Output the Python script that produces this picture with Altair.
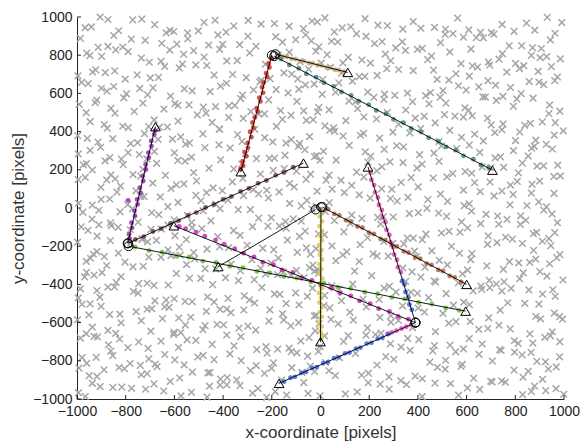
import altair as alt
import pandas as pd

# ---------------- noise detections (gray crosses) ----------------
noise_x = [
    412,-873,57,-244,931,-618,275,-35,702,-967,183,-502,846,-129,-771,609,-388,-13,468,-905,338,-681,795,-297,124,-546,991,-70,563,-829,236,-433,657,-189,89,-734,880,-356,381,-603,746,-941,18,513,-478,
    -652,187,-913,544,-38,826,-421,309,-777,71,963,-265,640,-590,-102,418,-849,253,-332,712,-7,-986,493,-184,871,-720,148,-459,587,-873,336,-61,907,-545,222,-298,775,-634,45,-812,669,-402,512,-156,944,
    733,-291,92,-841,456,-567,-19,902,-385,266,-703,618,-947,170,-128,801,-478,349,-655,27,985,-226,531,-899,398,-84,747,-736,205,-521,866,-342,-960,577,114,-619,690,-173,440,-790,3,929,-414,288,-562,
    -118,645,-802,381,-467,973,-49,233,-936,527,-640,86,-305,817,-753,464,-207,695,-884,159,-580,9,894,-361,624,-699,321,-996,41,-243,765,-512,182,-845,556,-93,948,-437,272,-665,835,-150,479,-923,611,
    598,-954,263,-411,857,-133,-688,432,75,-877,719,-320,962,-559,194,-26,-797,650,-249,503,-616,917,-89,357,-981,780,-453,131,-710,567,-182,824,-386,-900,62,688,-527,305,-62,-742,452,897,-275,-849,7,
    -377,806,-69,-925,491,152,-598,722,-286,941,-808,35,378,-481,667,-164,-991,260,593,-729,-12,873,-352,117,-643,749,-431,983,-213,446,-861,219,-540,608,-97,792,-328,-765,515,-7,-919,350,677,-585,143,
    911,-506,-181,686,-844,321,-30,552,-662,104,-962,839,-377,471,-253,-789,230,750,-121,-585,18,938,-445,389,-706,623,-58,-888,275,862,-317,-629,509,-946,178,701,-470,-156,-812,426,964,-230,54,-683,587,
    -229,58,-751,633,-416,884,-997,297,-86,-574,745,-322,177,-853,531,-142,960,-667,411,-45,-914,818,243,-483,669,-270,-780,93,997,-608,367,-196,-876,579,-341,801,38,-538,716,-958,164,-414,487,-723,-120,
    466,-903,717,-64,-417,206,-682,878,-263,559,-995,118,-530,792,-146,341,-818,654,-371,-25,927,-744,262,-210,497,-600,853,-475,12,-865,611,-307,952,-713,184,-91,739,-946,407,-554,-189,867,-790,313,-16,
    -729,339,-41,916,-586,148,-323,700,-861,487,-194,-974,621,64,-458,829,-637,252,-99,-885,543,974,-356,195,-770,752,-2,-521,417,-937,285,-247,889,-673,594,-149,-410,813,-810,35,664,-556,231,-961,396,
    128,-843,587,-362,958,-614,23,-127,745,-966,401,-509,293,-738,869,-59,-403,633,-902,178,-276,808,-592,463,-14,-689,985,-441,84,-821,372,-221,696,-995,251,-561,519,-108,900,-758,331,-319,48,-878,780,
    -491,791,-937,204,-170,611,-725,441,-18,959,-585,-316,848,98,-866,359,-627,522,-254,-994,713,-79,287,-468,896,-792,159,-380,656,-127,-658,928,-901,493,36,-512,778,-214,-836,315,590,-738,-56,866,-430,
    822,-288,57,-693,437,-938,680,-144,-482,235,973,-823,518,-35,-601,365,-254,917,-749,128,-413,766,-976,299,-79,620,-547,-863,485,170,-338,843,-664,20,-202,579,-910,727,-450,402,-772,-112,951,-529,258,
    -63,-910,689,-527,356,-216,874,-781,122,-422,573,-983,938,-654,16,247,-357,760,-859,497,-141,-598,821,96,-732,-279,433,-955,658,-86,-487,962,193,-626,528,-330,-831,732,-8,-696,381,-169,888,-917,604,
    538,-136,-830,297,-626,911,-41,-377,725,-918,163,-551,622,-237,-710,457,47,983,-863,-466,342,-95,788,-580,216,-998,875,-301,-674,571,-18,-780,108,418,-414,-933,686,-192,260,-521,946,-733,386,-58,829,
    -803,278,-474,884,-31,-655,604,-202,-944,429,63,-576,751,-367,970,-728,159,-99,-888,521,-282,338,-614,814,-11,-517,683,-962,232,-430,941,-173,-770,488,92,-329,859,-705,-45,617,-878,395,-246,776,-550,
    693,-390,132,-961,467,-121,-712,833,-538,283,-24,930,-839,583,-272,-625,376,-969,754,-176,46,-492,901,-747,210,-337,-897,659,-67,473,-592,996,-443,140,-819,566,-226,818,-684,-8,350,-930,722,-152,412,
    -167,954,-601,371,-873,86,-313,662,-995,516,-437,783,-54,-768,241,-241,912,-527,-918,444,-102,695,-680,17,856,-380,310,-846,588,-189,-986,175,745,-464,-33,-634,398,964,-749,261,-292,627,-906,77,-556,
    427,-712,-25,897,-368,188,-951,612,-208,-582,769,38,-824,337,-469,982,-141,-693,503,-901,244,-315,839,-17,-622,121,-979,691,-413,-156,546,-757,884,-271,401,-866,14,738,-533,-88,960,-640,289,-946,-385,
    -937,556,-266,73,-649,860,-474,320,-22,-819,687,-151,952,-555,193,-398,-998,472,-90,779,-736,249,-298,615,-873,-6,904,-602,378,-212,-483,733,-962,135,-335,527,-697,994,-122,-841,289,650,-425,43,-574,
    287,-81,-791,944,-445,611,-224,-930,95,736,-603,404,-355,-47,872,-708,187,-512,532,-986,-176,983,-385,331,-825,664,17,-262,-655,468,-916,812,-129,226,-548,-2,921,-747,587,-327,-871,358,-583,114,796,
    -598,828,-193,461,-979,232,-372,706,-53,-861,582,-705,144,924,-482,368,-264,-921,797,21,-640,514,-120,-782,982,-437,268,-9,-960,651,-326,865,-560,78,-219,449,-853,742,-679,301,-97,889,-504,-740,555,
    61,-454,912,-827,389,-288,629,-992,197,-617,-42,853,-383,512,-736,-160,968,-526,281,-889,744,-230,-671,418,35,-950,-118,699,-462,832,-805,169,-344,577,-24,-578,936,-712,330,-201,-918,795,-411,480,-76,
    -776,470,-139,879,-530,245,-966,654,-385,102,-853,759,-2,-644,353,-279,967,-466,534,-186,-905,830,-69,-718,417,-331,-994,603,196,-573,925,-412,-51,-816,705,-221,282,-684,999,-456,151,-937,567,-257,866,
]
noise_y = [
    941,987,922,963,998,930,955,979,918,944,991,927,968,952,985,933,921,974,946,999,937,960,925,982,949,917,971,939,994,928,957,983,920,966,943,989,931,953,976,924,961,948,995,936,972,
    862,899,841,913,875,850,906,838,884,869,915,847,892,858,881,836,903,871,855,910,844,888,866,897,839,878,912,853,894,846,870,907,835,886,861,900,849,917,873,843,891,857,909,868,880,
    779,812,760,828,795,754,821,787,770,806,763,832,798,775,815,757,790,825,768,803,781,753,817,794,830,766,808,785,759,824,799,772,811,756,789,827,764,801,777,819,758,793,831,771,805,
    701,738,675,719,746,686,727,694,712,670,741,706,683,730,697,722,677,748,709,688,733,672,715,699,744,681,725,692,736,669,711,749,689,718,703,676,740,696,729,684,745,707,673,723,690,
    617,651,596,638,662,603,629,588,655,612,643,591,667,624,607,649,598,634,660,615,586,646,622,601,658,631,609,664,593,640,620,599,653,627,606,666,613,590,645,626,604,659,618,636,595,
    534,571,509,552,580,520,546,563,505,539,577,514,557,528,582,510,543,568,525,549,503,575,537,560,518,584,531,507,566,545,522,579,540,511,558,532,573,506,549,526,565,513,581,538,555,
    451,488,427,470,496,438,462,481,423,457,499,433,474,446,492,421,466,440,485,455,430,494,448,471,426,483,459,437,500,443,469,424,489,452,477,435,497,464,428,480,447,493,420,461,476,
    368,401,342,386,413,355,379,397,338,372,410,349,391,363,406,340,382,359,416,374,345,398,366,388,351,412,337,377,404,361,393,346,418,370,384,353,407,341,395,365,381,413,348,389,358,
    287,318,262,305,331,271,296,323,258,311,283,328,266,300,276,320,256,291,314,269,333,280,307,260,325,289,272,316,297,264,329,285,309,257,294,322,268,302,279,334,261,313,290,326,274,
    203,238,177,221,249,188,230,212,173,244,197,226,182,251,208,235,171,216,193,247,180,224,205,240,175,213,250,186,229,199,242,178,219,234,191,206,252,184,227,172,215,245,195,232,209,
    118,153,94,137,165,102,146,128,89,160,111,142,98,167,124,150,91,133,108,162,96,139,121,157,88,130,168,105,145,115,159,93,136,149,100,126,163,110,141,90,134,155,99,147,120,
    38,71,15,52,84,22,60,44,9,77,29,65,13,81,47,56,7,35,74,25,63,11,49,80,32,18,69,41,86,24,58,6,45,73,28,66,17,53,83,36,12,61,40,78,20,
    -41,-8,-66,-25,-2,-58,-33,-71,-14,-49,-77,-20,-44,-5,-62,-29,-53,-11,-74,-37,-3,-60,-22,-47,-69,-16,-39,-78,-27,-55,-9,-64,-35,-19,-51,-73,-12,-42,-67,-24,-4,-57,-31,-76,-46,
    -121,-88,-146,-103,-157,-95,-134,-114,-81,-150,-127,-99,-160,-110,-140,-84,-118,-153,-92,-131,-106,-145,-86,-125,-161,-98,-137,-117,-82,-149,-108,-129,-155,-90,-122,-143,-101,-85,-135,-112,-158,-94,-128,-147,-104,
    -201,-168,-236,-185,-219,-174,-242,-207,-181,-228,-192,-165,-239,-211,-177,-224,-198,-244,-171,-215,-188,-232,-163,-205,-240,-179,-222,-195,-169,-237,-213,-183,-229,-166,-203,-241,-190,-218,-175,-233,-197,-164,-226,-209,-186,
    -283,-252,-317,-268,-299,-258,-325,-289,-263,-310,-276,-247,-321,-294,-260,-305,-280,-327,-255,-298,-271,-314,-249,-287,-323,-266,-303,-279,-251,-319,-292,-262,-308,-274,-246,-328,-285,-257,-312,-270,-301,-254,-316,-281,-296,
    -379,-365,-399,-337,-382,-352,-394,-340,-367,-410,-330,-357,-390,-345,-375,-403,-334,-361,-386,-349,-407,-368,-333,-396,-354,-380,-338,-409,-364,-388,-343,-377,-401,-331,-359,-392,-346,-370,-405,-341,-384,-351,-398,-335,-362,
    -452,-428,-475,-441,-414,-485,-460,-426,-471,-448,-492,-421,-463,-437,-479,-416,-451,-490,-432,-469,-444,-417,-486,-458,-429,-473,-440,-413,-493,-450,-423,-477,-435,-465,-420,-482,-447,-462,-446,-419,-481,-434,-467,-424,-489,
    -545,-530,-565,-503,-548,-518,-560,-506,-533,-576,-496,-523,-556,-512,-541,-569,-500,-527,-552,-515,-573,-534,-499,-562,-520,-546,-504,-575,-531,-554,-509,-543,-568,-497,-524,-558,-511,-535,-572,-507,-550,-517,-564,-502,-529,
    -624,-595,-639,-606,-579,-659,-616,-589,-643,-601,-631,-586,-648,-613,-628,-612,-585,-647,-600,-633,-590,-655,-618,-594,-641,-607,-580,-651,-626,-592,-637,-614,-658,-587,-629,-603,-645,-582,-617,-656,-598,-635,-610,-583,-652,
    -711,-696,-731,-669,-714,-684,-726,-672,-699,-742,-662,-689,-722,-678,-707,-735,-666,-693,-718,-681,-739,-700,-665,-728,-686,-712,-670,-741,-697,-720,-675,-709,-734,-663,-690,-724,-677,-701,-738,-673,-716,-683,-730,-668,-695,
    -795,-769,-811,-748,-783,-822,-764,-801,-776,-749,-818,-790,-761,-805,-772,-745,-825,-782,-755,-809,-767,-797,-752,-814,-779,-794,-778,-751,-813,-766,-799,-756,-821,-784,-760,-807,-773,-746,-817,-792,-758,-803,-780,-824,-753,
    -877,-862,-897,-835,-880,-850,-892,-838,-865,-908,-828,-855,-888,-844,-873,-901,-832,-859,-884,-847,-905,-866,-831,-894,-852,-878,-836,-907,-863,-886,-841,-875,-900,-829,-856,-890,-843,-867,-904,-839,-882,-849,-896,-834,-861,
    -944,-917,-979,-932,-965,-922,-987,-950,-926,-973,-939,-912,-983,-958,-924,-969,-946,-990,-919,-961,-935,-977,-914,-949,-988,-930,-967,-942,-915,-984,-956,-927,-971,-938,-911,-991,-948,-921,-975,-933,-963,-918,-980,-945,-960,
]

# ---------------- tracks ----------------
track_names = ["red", "tan", "teal", "violet", "mauve", "green",
               "magenta", "pink", "blue", "black", "yellow", "brown"]
track_colors = ["#d23a2e", "#c9ae80", "#4d8e8c", "#9a38b2", "#7a4866", "#72c23e",
                "#c936b6", "#e256b4", "#4a6de0", "#111111", "#d8cb58", "#b46f50"]
start_x = [-200, -185, -190, -792, -790, -788, 390, 390, 390, -20, 2, 8]
start_y = [800, 805, 795, -185, -185, -200, -600, -600, -600, -8, 5, 5]
end_x = [-327, 112, 706, -678, -70, 596, -602, 195, -170, -420, 0, 600]
end_y = [190, 710, 198, 426, 235, -540, -93, 215, -918, -307, -700, -400]

# detections assigned to each track (colored dots)
red_x = [-329,-318,-320,-306,-311,-298,-299,-284,-289,-275,-279,-270,-258,-262,-247,-251,-236,-240,-233,-219,-223,-210,-213,-201]
red_y = [203,222,244,271,292,315,340,371,399,420,448,474,505,523,558,577,603,632,657,686,706,736,755,784]
tan_x = [-171,-154,-138,-119,-103,-83,-67,-47,-32,-12,4,24,40,60,75,95]
tan_y = [802,793,792,781,780,770,769,758,758,747,746,735,735,724,723,713]
teal_x = [-162,-128,-89,-58,-18,14,54,86,126,157,198,229,269,300,341,372,413,444,484,516,556,587,628,659,690]
teal_y = [780,749,732,702,685,655,637,607,589,559,541,511,494,464,446,416,398,368,350,320,303,273,255,225,212]
violet_x = [-784,-786,-774,-776,-762,-764,-751,-753,-739,-742,-728,-730,-717,-718,-705,-707,-694,-695,-683,-679,-790]
violet_y = [-160,-138,-104,-77,-42,-15,19,45,80,106,141,167,202,228,263,290,324,351,385,405,40]
mauve_x = [-760,-726,-688,-654,-616,-582,-544,-510,-472,-438,-400,-366,-328,-294,-256,-222,-184,-150,-112]
mauve_y = [-165,-150,-123,-108,-81,-66,-39,-24,3,18,45,60,87,102,129,144,171,186,213]
green_x = [-761,-704,-651,-593,-540,-483,-429,-372,-318,-261,-208,-150,-97,-40,14,71,124,182,235,293,346,403,457,514,569]
green_y = [-204,-223,-231,-251,-258,-278,-285,-305,-313,-332,-340,-359,-367,-387,-394,-414,-421,-441,-449,-468,-476,-495,-503,-523,-536]
magenta_x = [361,319,283,239,204,160,124,80,45,1,-35,-78,-114,-158,-193,-237,-273,-316,-352,-396,-431,-475,-511,-554,-580]
magenta_y = [-582,-568,-541,-527,-501,-486,-460,-446,-420,-405,-379,-365,-338,-324,-297,-284,-256,-236,-213,-190,-168,-147,-127,-108,-97]
pink_x = [372,352,333,312,293,275,330,318,314,302,298,287,283,271,267,255,252,240,236,224,220,209,205]
pink_y = [-612,-622,-631,-642,-651,-660,-336,-310,-271,-244,-206,-179,-141,-114,-75,-49,-10,16,55,82,120,147,185]
blue_x = [279,254,235,209,190,164,146,119,101,74,56,30,11,-15,-34,-60,-78,-105,-123,-150,375,365,361,349,345,335]
blue_y = [-660,-680,-685,-706,-710,-731,-736,-757,-761,-782,-787,-808,-812,-833,-838,-858,-863,-884,-889,-909,-533,-505,-467,-440,-401,-383]
yellow_x = [5,-3,6,-4,7,-2,5,-6,4,-3,6,-5,3,-4,7,-2,5,-6,3,-4,6,-3,5,-5,4,-2,6,3]
yellow_y = [-20,-45,-70,-95,-120,-145,-170,-195,-220,-245,-270,-295,-320,-345,-370,-395,-420,-445,-470,-495,-520,-545,-570,-595,-620,-645,-670,-690]
brown_x = [31,57,77,105,124,152,172,199,219,247,266,294,314,342,361,389,409,436,456,484,503,531,551,578]
brown_y = [-6,-31,-39,-64,-71,-97,-103,-129,-136,-162,-168,-194,-201,-227,-233,-259,-265,-291,-298,-324,-330,-356,-363,-389]

tick_values = [-1000, -800, -600, -400, -200, 0, 200, 400, 600, 800, 1000]

# ---------------- tables ----------------
n = min(len(noise_x), len(noise_y))
noise_df = pd.DataFrame({"x": noise_x[:n], "y": noise_y[:n]})

det_lists = {
    "red": (red_x, red_y), "tan": (tan_x, tan_y), "teal": (teal_x, teal_y),
    "violet": (violet_x, violet_y), "mauve": (mauve_x, mauve_y),
    "green": (green_x, green_y), "magenta": (magenta_x, magenta_y),
    "pink": (pink_x, pink_y), "blue": (blue_x, blue_y),
    "yellow": (yellow_x, yellow_y), "brown": (brown_x, brown_y),
}
rows = []
for name, (xs_, ys_) in det_lists.items():
    for a, b in zip(xs_, ys_):
        rows.append({"x": a, "y": b, "track": name})
det_df = pd.DataFrame(rows)

track_df = pd.DataFrame({"track": track_names, "x": start_x, "y": start_y,
                         "x2": end_x, "y2": end_y})
end_df = pd.DataFrame({"x": end_x, "y": end_y})
tick_df = pd.DataFrame({"x": tick_values, "y": tick_values})

W, H = 487, 382
sc = alt.Scale(domain=[-1000, 1000], nice=False, zero=False)
x_axis = alt.Axis(values=tick_values, title="x-coordinate [pixels]", labelFlush=False, format="d")
y_axis = alt.Axis(values=tick_values, title="y-coordinate [pixels]", format="d")


def X(f="x"):
    return alt.X(f"{f}:Q", scale=sc, axis=x_axis)


def Y(f="y"):
    return alt.Y(f"{f}:Q", scale=sc, axis=y_axis)


cross = "M-1,-1L1,1M-1,1L1,-1"

noise = alt.Chart(noise_df).mark_point(
    shape=cross, size=44, filled=False, color="#a6a6a6", strokeWidth=1.5, opacity=1
).encode(x=X(), y=Y())

dets = alt.Chart(det_df).mark_circle(size=24, opacity=0.9).encode(
    x=X(), y=Y(),
    color=alt.Color("track:N", scale=alt.Scale(domain=track_names, range=track_colors), legend=None),
)

lines = alt.Chart(track_df).mark_rule(color="black", strokeWidth=0.9).encode(
    x=X(), y=Y(), x2="x2:Q", y2="y2:Q"
)

starts = alt.Chart(track_df).mark_point(
    shape="circle", size=80, filled=False, color="black", strokeWidth=1, opacity=1
).encode(x=X(), y=Y())

ends = alt.Chart(end_df).mark_point(
    shape="triangle-up", size=95, filled=False, color="black", strokeWidth=1, opacity=1
).encode(x=X(), y=Y())

xticks = alt.Chart(tick_df).mark_rule(color="#222222", strokeWidth=1).encode(
    x=X(), y=alt.value(H), y2=alt.value(H - 4)
)
yticks = alt.Chart(tick_df).mark_rule(color="#222222", strokeWidth=1).encode(
    y=Y(), x=alt.value(0), x2=alt.value(4)
)

chart = alt.layer(noise, dets, lines, starts, ends, xticks, yticks).properties(
    width=W, height=H,
    autosize=alt.AutoSizeParams(type="none"),
    padding={"left": 77, "top": 17, "right": 18, "bottom": 49},
).configure_view(stroke=None).configure_axis(
    grid=False, ticks=False, domainColor="#222222", domainWidth=1,
    labelFont="Liberation Sans", labelFontSize=14, labelColor="#222222", labelPadding=5,
    titleFont="Liberation Sans", titleFontSize=17, titleFontWeight="normal", titleColor="#333333",
).configure_axisX(titlePadding=6).configure_axisY(titlePadding=5)

chart.save("out.html", embed_options={"renderer": "svg", "actions": False})
